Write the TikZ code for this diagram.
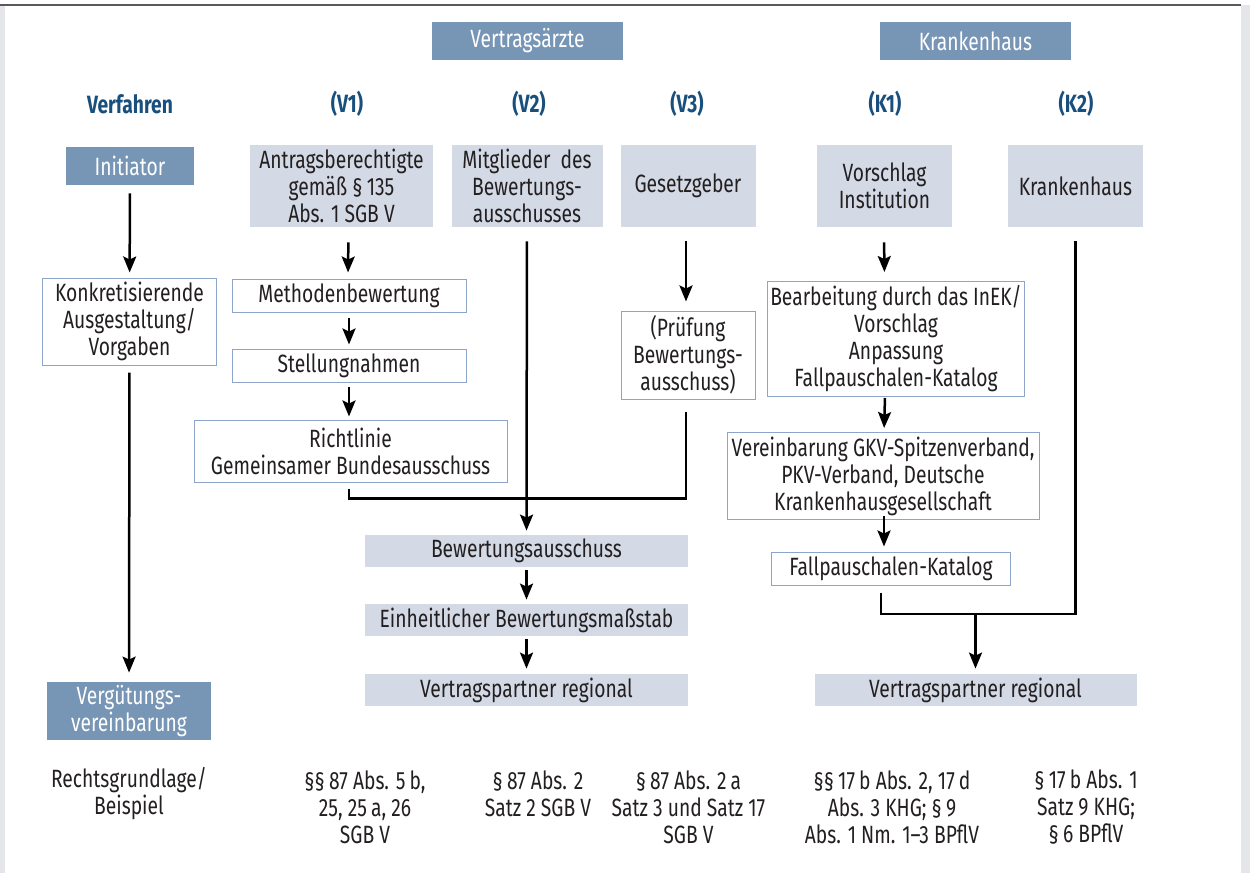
\documentclass[tikz,border=0pt]{standalone}
\usepackage{fontspec}
\setmainfont[FakeStretch=0.77]{Fira Sans}
\usepackage{xcolor}
\usetikzlibrary{arrows.meta}
\definecolor{hdrblue}{RGB}{119,149,181}
\definecolor{boxgray}{RGB}{211,218,230}
\definecolor{edgeblue}{RGB}{140,165,200}
\definecolor{titleblue}{RGB}{24,79,124}
\definecolor{txtdark}{RGB}{35,31,32}
\definecolor{sidegray}{RGB}{228,230,234}

\begin{document}
\begin{tikzpicture}[x=0.5pt,y=-0.5pt,font=\fontsize{12.5}{13.5}\selectfont,text=txtdark]
    % Define styles
    \tikzstyle{hdr} = [rectangle, fill=hdrblue, text=white, align=center, inner sep=0pt]
    \tikzstyle{src} = [rectangle, fill=boxgray, align=center, inner sep=0pt]
    \tikzstyle{proc} = [rectangle, draw=edgeblue, line width=0.5pt, fill=white, align=center, inner sep=0pt]
    \tikzstyle{lab} = [text=titleblue, font=\fontsize{12.5}{13.5}\selectfont\bfseries]
    \tikzstyle{law} = [align=center]
    \tikzstyle{arrow} = [line width=1.25pt,->,>={Stealth[length=8pt,width=6.5pt,inset=1.5pt]}]
    \tikzstyle{line} = [line width=1.25pt]

    % Frame
    \useasboundingbox (0,0) rectangle (1250,873);
    \fill[white] (0,0) rectangle (1250,873);
    \fill[sidegray] (0,5) rectangle (5,873);
    \fill[sidegray] (1241,5) rectangle (1250,873);
    \draw[black!65, line width=1pt] (0,4.5) -- (1241,4.5);

    % Headers
    \node (hdrva) [hdr, minimum width=95.5pt, minimum height=19pt] at (527.5,41) {Vertragsärzte};
    \node (hdrkh) [hdr, minimum width=95.5pt, minimum height=19pt] at (975.5,41) {Krankenhaus};

    % Column labels
    \node (labverf) [lab] at (130,104) {Verfahren};
    \node (labv1) [lab] at (347,104) {(V1)};
    \node (labv2) [lab] at (529,104) {(V2)};
    \node (labv3) [lab] at (687,104) {(V3)};
    \node (labk1) [lab] at (885,104) {(K1)};
    \node (labk2) [lab] at (1076,104) {(K2)};

    % Layer 1
    \node (init) [hdr, minimum width=64pt, minimum height=19pt] at (130,166) {Initiator};
    \node (antrag) [src, minimum width=91.5pt, minimum height=41pt] at (341.5,186) {Antragsberechtigte\\gemäß §\,135\\Abs. 1 SGB V};
    \node (mitgl) [src, minimum width=75.5pt, minimum height=41pt] at (527,186) {Mitglieder\ \ des\\Bewertungs-\\ausschusses};
    \node (gesetz) [src, minimum width=67.5pt, minimum height=41pt] at (688,186) {Gesetzgeber};
    \node (vorschl) [src, minimum width=67.5pt, minimum height=41pt] at (884.5,186) {Vorschlag\\Institution};
    \node (kh) [src, minimum width=67.5pt, minimum height=41pt] at (1075.5,186) {Krankenhaus};

    % Vertragsaerzte chain
    \node (konkret) [proc, minimum width=87pt, minimum height=43.5pt] at (129.5,321.5) {Konkretisierende\\Ausgestaltung/\\Vorgaben};
    \node (method) [proc, minimum width=117pt, minimum height=16.5pt] at (349,295.5) {Methodenbewertung};
    \node (stell) [proc, minimum width=117pt, minimum height=16.5pt] at (349,365.5) {Stellungnahmen};
    \node (richtl) [proc, minimum width=156.5pt, minimum height=31pt] at (350.5,451) {Richtlinie\\Gemeinsamer Bundesausschuss};
    \node (pruef) [proc, minimum width=67pt, minimum height=44pt] at (688,355) {(Prüfung\\Bewertungs-\\ausschuss)};
    \node (bewa) [src, minimum width=161.5pt, minimum height=16pt] at (526.5,551) {Bewertungsausschuss};
    \node (ebm) [src, minimum width=161.5pt, minimum height=16pt] at (526.5,620) {Einheitlicher Bewertungsmaßstab};
    \node (vpv) [src, minimum width=161.5pt, minimum height=16pt] at (526.5,690) {Vertragspartner regional};

    % Krankenhaus chain
    \node (bearb) [proc, minimum width=128.5pt, minimum height=57.5pt] at (896,339) {Bearbeitung durch das InEK/\\Vorschlag\\Anpassung\\Fallpauschalen-Katalog};
    \node (verein) [proc, minimum width=156pt, minimum height=43.5pt] at (883,476) {Vereinbarung GKV-Spitzenverband,\\PKV-Verband, Deutsche\\Krankenhausgesellschaft};
    \node (fallp) [proc, minimum width=119.5pt, minimum height=16.5pt] at (891,568.5) {Fallpauschalen-Katalog};
    \node (vpk) [src, minimum width=161pt, minimum height=16pt] at (975.5,690) {Vertragspartner regional};

    % Result
    \node (verguet) [hdr, minimum width=82pt, minimum height=29pt] at (129,711) {Vergütungs-\\vereinbarung};

    % Legal basis
    \node (lawverf) [law] at (129,794) {Rechtsgrundlage/\\Beispiel};
    \node (lawv1) [law] at (365,807) {§§\,87 Abs. 5\,b,\\25, 25\,a, 26\\SGB V};
    \node (lawv2) [law] at (538,794) {§\,87 Abs. 2\\Satz 2 SGB V};
    \node (lawv3) [law] at (688.5,807) {§\,87 Abs. 2\,a\\Satz 3 und Satz 17\\SGB V};
    \node (lawk1) [law] at (892,807) {§§\,17\,b Abs. 2, 17\,d\\Abs. 3 KHG; §\,9\\Abs. 1 Nm. 1--3 BPflV};
    \node (lawk2) [law] at (1086,807) {§\,17\,b Abs. 1\\Satz 9 KHG;\\§\,6 BPflV};

    % Dependencies
    \draw [arrow, shorten <=4pt, shorten >=2.5pt] (init) -- (konkret);
    \draw [arrow, shorten <=3.5pt, shorten >=4.5pt] (konkret) -- (verguet);
    \draw [arrow, shorten <=7.5pt, shorten >=3pt] ([xshift=3.5pt]antrag.south) -- ([xshift=-0.5pt]method.north);
    \draw [arrow, shorten <=2.5pt, shorten >=2pt] (method) -- (stell);
    \draw [arrow, shorten <=2pt, shorten >=1.5pt] (stell) -- ([xshift=-0.75pt]richtl.north);
    \draw [arrow, shorten <=7pt, shorten >=2pt] (mitgl) -- (bewa);
    \draw [arrow, shorten <=7pt, shorten >=4.5pt] ([xshift=-1pt]gesetz.south) -- ([xshift=-1pt]pruef.north);
    \draw [line] ([xshift=-0.75pt,yshift=-3pt]richtl.south) -- ++(0,10) -| ([xshift=-1pt,yshift=-6pt]pruef.south);
    \draw [arrow, shorten <=1.5pt, shorten >=2pt] (bewa) -- (ebm);
    \draw [arrow, shorten <=1.5pt, shorten >=2.5pt] (ebm) -- (vpv);
    \draw [arrow, shorten <=7.5pt, shorten >=4.5pt] ([xshift=-0.25pt]vorschl.south) -- ([xshift=-5.75pt]bearb.north);
    \draw [arrow, shorten <=0.5pt, shorten >=2pt] ([xshift=1pt]bearb.south -| verein.south) -- ([xshift=0.5pt]verein.north);
    \draw [arrow, shorten <=-2pt, shorten >=2.5pt] ([xshift=0.5pt]verein.south) -- ([xshift=-3.5pt]fallp.north);
    \coordinate (kjoin) at (975.5,614);
    \draw [line] ([xshift=-5pt,yshift=-3.5pt]fallp.south) |- (kjoin) -| ([yshift=-7pt]kh.south);
    \draw [arrow, shorten >=2.5pt] (kjoin) -- (vpk);
\end{tikzpicture}
\end{document}
